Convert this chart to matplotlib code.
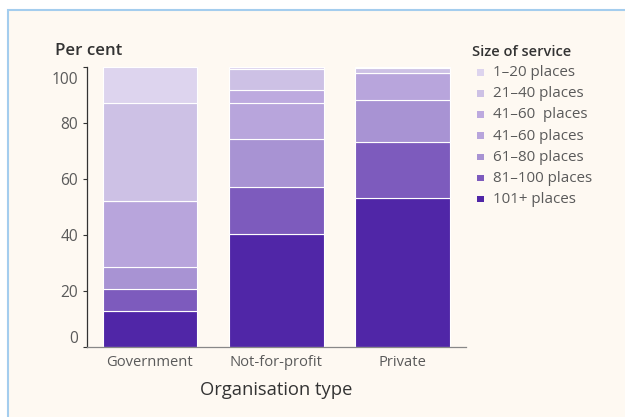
import matplotlib
matplotlib.use("Agg")
import matplotlib.pyplot as plt
from matplotlib.patches import Rectangle
from matplotlib.transforms import ScaledTranslation
import numpy as np

plt.rcParams['font.family'] = ['Open Sans', 'DejaVu Sans']

categories = ["Government", "Not-for-profit", "Private"]
series_labels = ["1–20 places", "21–40 places", "41–60  places", "41–60 places",
                 "61–80 places", "81–100 places", "101+ places"]
v_1_20 = [12.9, 0.8, 0.3]
v_21_40 = [35.2, 7.7, 2.0]
v_41_60a = [0.0, 4.5, 0.0]
v_41_60b = [23.3, 12.8, 9.5]
v_61_80 = [8.1, 17.2, 15.2]
v_81_100 = [7.8, 16.8, 20.0]
v_101 = [12.7, 40.2, 53.0]
series_values = [v_1_20, v_21_40, v_41_60a, v_41_60b, v_61_80, v_81_100, v_101]
colors = ["#ddd4ee", "#cdc1e5", "#bdaadf", "#b8a5dc", "#a893d3", "#7d5bbd", "#5026a7"]
yticks = [0, 20, 40, 60, 80, 100]

W, H = 625, 417
fig = plt.figure(figsize=(W / 100, H / 100), dpi=100)
fig.patch.set_facecolor("white")
fig.patches.append(Rectangle((8 / W, -0.1), 1.2, (H - 10) / H + 0.1,
                             transform=fig.transFigure, facecolor="#fef9f2",
                             edgecolor="#a4cdee", linewidth=1.5, zorder=-10))

ax = fig.add_axes([86.7 / W, 1 - 346.7 / H, (466 - 86.7) / W, (346.7 - 66.7) / H])
ax.set_facecolor("none")

x = np.arange(len(categories))
bottom = np.zeros(len(categories))
for lab, vals, col in list(zip(series_labels, series_values, colors))[::-1]:
    vals = np.array(vals)
    ax.bar(x, vals, width=0.75, bottom=bottom, color=col, edgecolor="white",
           linewidth=0.8, label=lab)
    bottom += vals

ax.set_xlim(-0.5, 2.5)
ax.set_ylim(0, 100)
ax.set_xticks(x)
ax.set_xticklabels(categories, fontsize=10.6, color="#5a5a5a")
ax.set_yticks(yticks)
ax.set_yticklabels([str(t) for t in yticks], fontsize=11.2, color="#5a5a5a")
ax.tick_params(axis="x", length=0, pad=6)
ax.tick_params(axis="y", length=3, width=0.8, color="#333333", pad=3)
for sp in ["top", "right"]:
    ax.spines[sp].set_visible(False)
ax.spines["left"].set_color("#333333")
ax.spines["left"].set_linewidth(0.9)
ax.spines["bottom"].set_color("#888888")
ax.spines["bottom"].set_linewidth(0.9)

labels = ax.get_yticklabels()
labels[0].set_transform(labels[0].get_transform() + ScaledTranslation(0, 10 / 100, fig.dpi_scale_trans))
labels[-1].set_transform(labels[-1].get_transform() + ScaledTranslation(0, -11 / 100, fig.dpi_scale_trans))

fig.text(55 / W, 1 - 51 / H, "Per cent", fontsize=12.2, color="#333333",
         fontweight="semibold", ha="left", va="center")
ax.set_xlabel("Organisation type", fontsize=13.2, color="#333333", labelpad=8)

# legend
fig.text(472 / W, 1 - 52 / H, "Size of service", fontsize=10.5, color="#333333",
         fontweight="semibold", ha="left", va="center")
ys = [72.7, 93.8, 114.9, 136.0, 157.1, 178.2, 199.3]
for lab, col, yy in zip(series_labels, colors, ys):
    fig.patches.append(Rectangle((477.3 / W, 1 - (yy + 3) / H), 6.5 / W, 6.5 / H,
                                 transform=fig.transFigure, facecolor=col,
                                 edgecolor="none"))
    fig.text(493 / W, 1 - yy / H, lab, fontsize=10.9, color="#5a5a5a",
             ha="left", va="center")

fig.savefig("out.png", dpi=100)
